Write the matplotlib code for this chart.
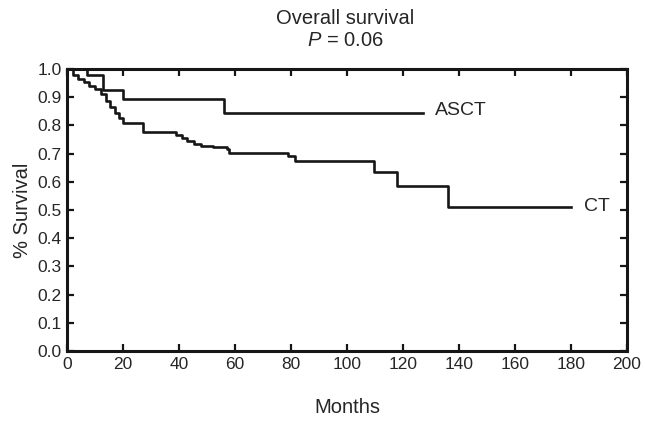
import matplotlib
matplotlib.use("Agg")
import matplotlib.pyplot as plt

plt.rcParams["font.family"] = ["Liberation Sans", "DejaVu Sans"]
plt.rcParams["mathtext.fontset"] = "custom"
plt.rcParams["mathtext.it"] = "Liberation Sans:italic"
plt.rcParams["mathtext.rm"] = "Liberation Sans"

# Kaplan-Meier steps (months, survival fraction)
asct_months = [0, 7, 13, 20, 56, 127]
asct_surv = [1.0, 0.98, 0.925, 0.895, 0.845, 0.845]

ct_months = [0, 2, 4, 6, 8, 10, 12, 14, 15.5, 17, 18.5, 20, 27, 39, 41, 43,
             45.5, 48, 52, 57, 58, 79, 81.4, 109.5, 117.7, 136.2, 180]
ct_surv = [1.0, 0.98, 0.965, 0.955, 0.94, 0.93, 0.91, 0.885, 0.865, 0.845,
           0.825, 0.81, 0.776, 0.765, 0.755, 0.745, 0.735, 0.728, 0.722,
           0.717, 0.703, 0.69, 0.672, 0.636, 0.585, 0.512, 0.512]

x_ticks = list(range(0, 201, 20))
y_ticks = [i / 10 for i in range(11)]

text_color = "#262626"
line_color = "#161616"

fig = plt.figure(figsize=(6.45, 4.23), dpi=100)
ax = fig.add_axes([0.104, 0.170, 0.868, 0.667])

ax.step(asct_months, asct_surv, where="post", color=line_color, lw=1.9)
ax.step(ct_months, ct_surv, where="post", color=line_color, lw=1.9)

ax.text(asct_months[-1] + 4.5, asct_surv[-1] + 0.008, "ASCT", fontsize=14,
        color=text_color, va="center", ha="left")
ax.text(ct_months[-1] + 4.5, ct_surv[-1], "CT", fontsize=14,
        color=text_color, va="center", ha="left")

ax.set_xlim(0, 200)
ax.set_ylim(0, 1.0)
ax.set_xticks(x_ticks)
ax.set_yticks(y_ticks)
ax.set_yticklabels([f"{v:.1f}" for v in y_ticks])
ax.tick_params(direction="in", length=5, width=1.6, top=True, right=True,
               labelsize=12.5, colors=line_color, labelcolor=text_color)
ax.tick_params(axis="y", pad=4)
ax.tick_params(axis="x", pad=4)
for spine in ax.spines.values():
    spine.set_linewidth(2.2)
    spine.set_color(line_color)

ax.set_xlabel("Months", fontsize=14.5, color=text_color, labelpad=19)
ax.set_ylabel("% Survival", fontsize=14.5, color=text_color, labelpad=4)

fig.text(0.535, 1 - 19 / 423, "Overall survival", fontsize=14.5,
         color=text_color, ha="center", va="center")
fig.text(0.535, 1 - 40 / 423, "$\\it{P}$ = 0.06", fontsize=14.5,
         color=text_color, ha="center", va="center")

fig.savefig("out.png", dpi=100)
plt.close(fig)
